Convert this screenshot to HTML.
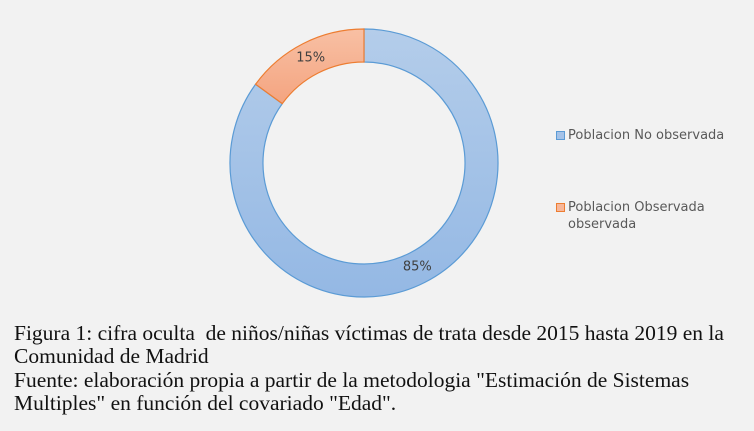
<!DOCTYPE html>
<html><head><meta charset="utf-8">
<style>
html,body{margin:0;padding:0;}
body{width:754px;height:431px;background:#f2f2f2;position:relative;overflow:hidden;font-family:"Liberation Sans",sans-serif;}
#chart{position:absolute;left:0;top:0;}
.leg{position:absolute;left:556px;font-size:13px;color:#595959;line-height:17px;font-family:"DejaVu Sans","Liberation Sans",sans-serif;}
.sw{position:absolute;left:0;top:4px;width:9px;height:9px;}
.leg span.t{padding-left:12px;display:block;}
#caption{position:absolute;left:14px;top:322px;font-family:"Liberation Serif",serif;font-size:21.5px;line-height:23.4px;color:#111;white-space:nowrap;}
</style></head><body>
<svg id="chart" width="754" height="320">
<defs>
<linearGradient id="gb" x1="0" y1="0" x2="0" y2="1"><stop offset="0" stop-color="#b4cdea"/><stop offset="1" stop-color="#94b8e4"/></linearGradient>
<linearGradient id="go" x1="0" y1="0" x2="0" y2="1"><stop offset="0" stop-color="#f8c0a4"/><stop offset="1" stop-color="#f4a480"/></linearGradient>
</defs>
<g id="slices"></g>
</svg>
<div class="leg" style="top:127px"><div class="sw" style="background:#a4c2e8;border:1px solid #5b9bd5;box-sizing:border-box"></div><span class="t">Poblacion No observada</span></div>
<div class="leg" style="top:199px"><div class="sw" style="background:#f7b79a;border:1px solid #ed7d31;box-sizing:border-box"></div><span class="t">Poblacion Observada<br>observada</span></div>
<div id="caption">Figura 1: cifra oculta&nbsp; de niños/niñas víctimas de trata desde 2015 hasta 2019 en la<br>Comunidad de Madrid<br>Fuente: elaboración propia a partir de la metodologia "Estimación de Sistemas<br>Multiples" en función del covariado "Edad".</div>
<script>
const categories=["Poblacion No observada","Poblacion Observada"];
const values=[85,15];
const labels=["85%","15%"];
const fills=["url(#gb)","url(#go)"],strokes=["#5b9bd5","#ed7d31"];
const cx=364,cy=163,R=134,r=101;
const g=document.getElementById('slices');
const tot=values.reduce((a,b)=>a+b,0);
function pt(a,rad){return [cx+rad*Math.sin(a),cy-rad*Math.cos(a)];}
let start=0;
values.forEach((v,i)=>{
 const a0=start/tot*2*Math.PI,a1=(start+v)/tot*2*Math.PI;start+=v;
 const lg=(a1-a0)>Math.PI?1:0;
 const p0=pt(a0,R),p1=pt(a1,R),q1=pt(a1,r),q0=pt(a0,r);
 const p=document.createElementNS('http://www.w3.org/2000/svg','path');
 p.setAttribute('d',`M${p0}A${R},${R} 0 ${lg} 1 ${p1}L${q1}A${r},${r} 0 ${lg} 0 ${q0}Z`);
 p.setAttribute('fill',fills[i]);p.setAttribute('stroke',strokes[i]);p.setAttribute('stroke-width','1.2');
 
 
 g.appendChild(p);
 const am=(a0+a1)/2;
 const lp=pt(am,(R+r)/2);
 const t=document.createElementNS('http://www.w3.org/2000/svg','text');
 t.setAttribute('x',lp[0]);t.setAttribute('y',lp[1]+3);t.setAttribute('text-anchor','middle');
 t.setAttribute('font-size','13');t.setAttribute('fill','#404040');t.setAttribute('font-family','DejaVu Sans, Liberation Sans, sans-serif');
 t.textContent=labels[i];
 
 
 g.appendChild(t);
});
</script>
</body></html>
